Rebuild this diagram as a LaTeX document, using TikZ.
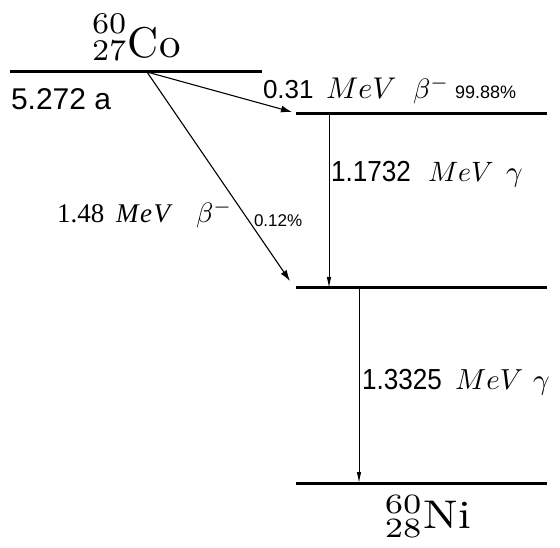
\documentclass[tikz,border=0pt]{standalone}
\usepackage{fontspec}
\usepackage{graphicx}
\usetikzlibrary{arrows.meta}
\newfontfamily\numsf{Liberation Sans}
\newfontfamily\numnarrow[FakeStretch=0.9]{Liberation Sans}
\newfontfamily\numrm{Liberation Serif}
\newcommand{\fs}[1]{\fontsize{#1}{#1}\selectfont}
% math set at 10pt and scaled up (Computer Modern math does not grow past 24.88pt)
\newcommand{\mth}[2]{\scalebox{#1}{\fontsize{10}{12}\selectfont$#2$}}

\begin{document}
\begin{tikzpicture}[x=1pt,y=-1pt,
  level/.style={line width=3pt},
  decay/.style={line width=1.1pt,-{Latex[length=11pt,width=7pt]}},
  gammaline/.style={line width=0.9pt,-{Latex[length=11pt,width=4.5pt]}},
  txt/.style={inner sep=0pt,outer sep=0pt,anchor=base west},
  nuclide/.style={inner sep=0pt,outer sep=0pt}]
\useasboundingbox (0,0) rectangle (560,548);

% energy levels
\coordinate (coL) at (10,72);  \coordinate (coR) at (262,72);
\coordinate (l1L) at (296,114); \coordinate (l1R) at (547,114);
\coordinate (l2L) at (296,288); \coordinate (l2R) at (547,288);
\coordinate (niL) at (296,483); \coordinate (niR) at (547,483);
\draw[level] (coL) -- (coR);
\draw[level] (l1L) -- (l1R);
\draw[level] (l2L) -- (l2R);
\draw[level] (niL) -- (niR);

% beta decays
\coordinate (src) at (147,72);
\coordinate (b1) at (292,112);
\coordinate (b2) at (290,281);
\draw[decay] (src) -- (b1);
\draw[decay] (src) -- (b2);

% gamma transitions
\coordinate (g1a) at (329,114); \coordinate (g1b) at (329,288);
\coordinate (g2a) at (359,288); \coordinate (g2b) at (359,483);
\draw[gammaline] (g1a) -- (g1b);
\draw[gammaline] (g2a) -- (g2b);

% nuclides
\node[nuclide,anchor=base west] (co) at (92,58)
  {\scalebox{4.3}{\fontsize{10}{12}\selectfont
   \makebox[0pt][l]{\raisebox{5.8pt}{\fontsize{7}{8}\selectfont 60}}%
   \raisebox{-0.5pt}{\fontsize{7}{8}\selectfont 27}\hspace{0.4pt}Co}};
\node[nuclide,anchor=base] (ni) at (428,528)
  {\scalebox{4.6}[4.0]{\fontsize{10}{12}\selectfont$^{60}_{28}\mathrm{Ni}$}};
\node[txt] (half) at (11,110) {\numsf\fs{30}5.272 a};

% upper beta branch label
\node[txt] (lb1num)  at (263,99) {\numsf\fs{26}0.31};
\node[txt] (lb1mev)  at (326,99) {\mth{3.0}{MeV}};
\node[txt] (lb1beta) at (413,99) {\mth{2.8}{\beta^-}};
\node[txt] (lb1pct)  at (455,99) {\numsf\fs{18}99.88\%};

% first gamma label
\node[txt] (lg1num) at (331,182) {\numnarrow\fs{29}1.1732};
\node[txt] (lg1mev) at (428,182) {\mth{2.8}{MeV}};
\node[txt] (lg1gam) at (506,182) {\mth{2.9}{\gamma}};

% second gamma label
\node[txt] (lg2num) at (362,389) {\numnarrow\fs{29}1.3325};
\node[txt] (lg2mev) at (455,389) {\mth{2.9}{MeV}};
\node[txt] (lg2gam) at (533,389) {\mth{2.9}{\gamma}};

% lower beta branch label
\node[txt] (lb2num)  at (57,223)  {\numrm\fs{27}1.48};
\node[txt] (lb2mev)  at (116,223) {\numrm\fs{27}\itshape\addfontfeature{LetterSpace=6}MeV};
\node[txt] (lb2beta) at (196,223) {\mth{2.8}{\beta^-}};
\node[txt] (lb2pct)  at (254,227) {\numsf\fs{17}0.12\%};
\end{tikzpicture}
\end{document}
